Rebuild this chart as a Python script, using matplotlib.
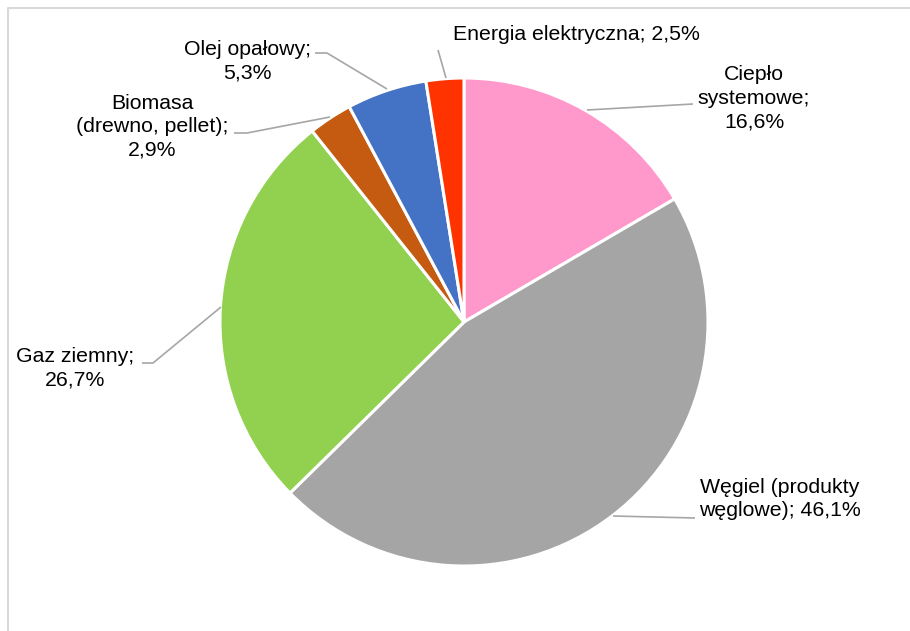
"""
Struktura nośników energii do ogrzewania - wykres kołowy
"""

import matplotlib.pyplot as plt

# =============================================================================
# Data
# =============================================================================

categories = ["Ciepło\nsystemowe", "Węgiel (produkty\nwęglowe)", "Gaz ziemny",
              "Biomasa\n(drewno, pellet)", "Olej opałowy", "Energia elektryczna"]
shares = [16.6, 46.1, 26.7, 2.9, 5.3, 2.5]
value_on_new_line = [True, False, True, True, True, False]

# =============================================================================
# Styling / layout (pixel coordinates, y from top)
# =============================================================================

COLORS = ['#FF99CC', '#A5A5A5', '#92D050', '#C55A11', '#4472C4', '#FF3300']
LEADER_COLOR = '#A6A6A6'
FRAME_COLOR = '#D9D9D9'
FONT = 'Liberation Sans'
FONT_SIZE = 15.3

W, H = 910, 631
PIE_CENTER = (464, 322)
PIE_RADIUS = 244

# label centre positions
LABEL_POS = [(754, 98), (780, 499), (75, 368), (152, 127), (247, 61), (576, 34)]
# leader polylines
LEADERS = [
    [(587, 110), (693, 104)],
    [(613, 516), (695, 518)],
    [(221, 307), (153, 363), (142, 363)],
    [(330, 117), (247, 133), (234, 133)],
    [(387, 89), (327, 53), (315, 53)],
    [(446, 78), (438, 50)],
]


def py(y):
    """Convert pixel y (from top) to data y (from bottom)."""
    return H - y


fig = plt.figure(figsize=(W / 100, H / 100), dpi=100)
ax = fig.add_axes([0, 0, 1, 1])

# Pie
ax.pie(shares, colors=COLORS, startangle=90, counterclock=False,
       center=(PIE_CENTER[0], py(PIE_CENTER[1])), radius=PIE_RADIUS,
       wedgeprops=dict(edgecolor='white', linewidth=2.2), frame=True)
ax.set_xlim(0, W)
ax.set_ylim(0, H)
ax.set_aspect('equal')
ax.set_axis_off()

# Labels
for name, value, newline, (x, y) in zip(categories, shares, value_on_new_line, LABEL_POS):
    val = f"{value:.1f}%".replace('.', ',')
    text = f"{name};\n{val}" if newline else f"{name}; {val}"
    ax.text(x, py(y), text, ha='center', va='center', fontsize=FONT_SIZE,
            family=FONT, color='black', linespacing=1.3)

for pts in LEADERS:
    xs = [p[0] for p in pts]
    ys = [py(p[1]) for p in pts]
    ax.plot(xs, ys, color=LEADER_COLOR, linewidth=1.2, solid_capstyle='butt')

# Chart area frame
ax.plot([8, 8, W + 5], [py(H + 5), py(8), py(8)], color=FRAME_COLOR, linewidth=1.5)

fig.savefig('out.png', dpi=100, facecolor='white')
